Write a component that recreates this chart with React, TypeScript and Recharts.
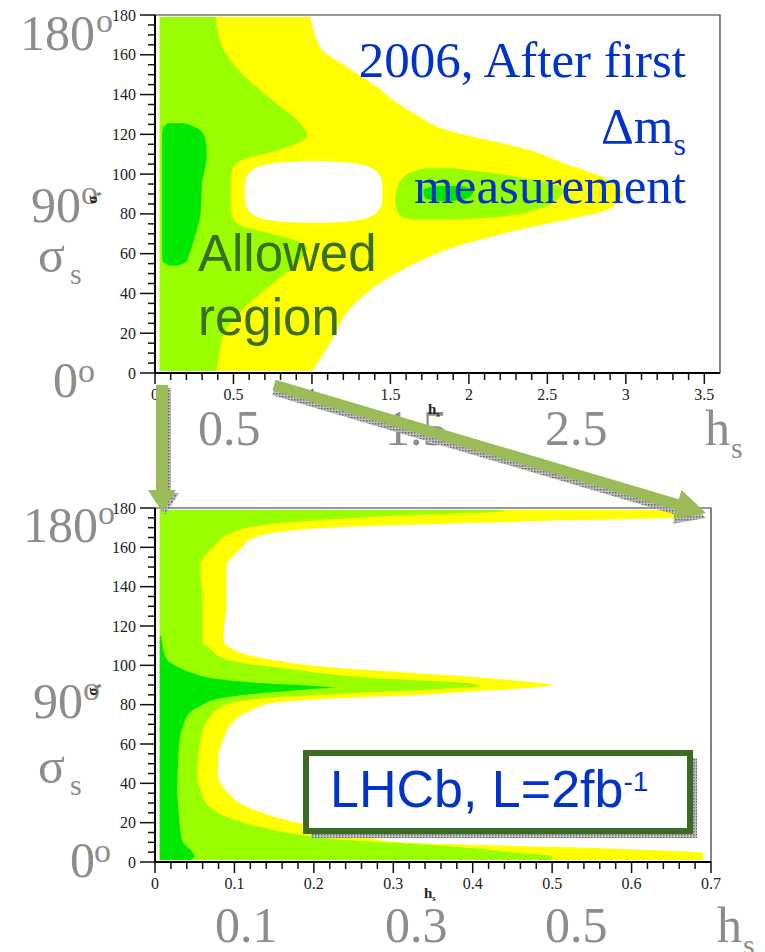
import React from 'react';
import { ComposedChart, Area, XAxis, YAxis, ReferenceArea } from 'recharts';

const YELLOW = '#ffff00';
const LIME = '#99ff00';
const GREEN = '#00e800';
const GREY = '#8c8c8c';
const BLUE = '#0033cc';
const ARROW = '#9bbb59';

// 2006 panel. Edges are [sigma, hs right edge]; islands are [sigma, hs low, hs high]
const topYellow = [
  [1, 1.0], [8, 1.06], [17, 1.13], [32, 1.24], [45, 1.43], [54, 1.63], [62, 1.86], [72, 2.32],
  [77, 2.62], [82, 2.88], [86, 2.95], [90, 2.98], [94, 2.95], [99.5, 2.82], [105, 2.62],
  [112, 2.39], [122, 1.86], [130, 1.66], [137, 1.52], [144, 1.41], [154, 1.22], [162, 1.07],
  [170, 1.02], [179, 0.99],
];
const topLime = [
  [1, 0.39], [10, 0.41], [20, 0.44], [32, 0.56], [45, 0.75], [56, 0.92], [63, 0.97], [67, 0.88],
  [70, 0.74], [74, 0.55], [79, 0.49], [90, 0.48], [102, 0.49], [107, 0.55], [111, 0.74],
  [115, 0.89], [119, 0.97], [126, 0.92], [137, 0.75], [150, 0.56], [162, 0.44], [171, 0.4],
  [179, 0.39],
];
const topHole = [
  [75.5, 0.93, 1.09], [76, 0.82, 1.2], [77, 0.72, 1.3], [79, 0.64, 1.38], [82, 0.595, 1.425],
  [86, 0.575, 1.445], [91, 0.57, 1.45], [96, 0.575, 1.445], [100, 0.595, 1.425], [103, 0.64, 1.38],
  [105, 0.72, 1.3], [106, 0.82, 1.2], [106.5, 0.93, 1.09],
];
const topBlob = [
  [77, 1.65, 1.9], [78.5, 1.57, 2.2], [82, 1.54, 2.42], [87, 1.53, 2.56], [92, 1.54, 2.6],
  [97, 1.57, 2.42], [100.5, 1.62, 2.15], [103, 1.72, 1.9],
];
const topBlobCore = [[86.5, 1.8, 1.9], [88, 1.72, 2.0], [92, 1.71, 2.03], [94, 1.78, 1.95]];
const topCore = [
  [54, 0.09, 0.15], [56, 0.05, 0.2], [60, 0.045, 0.22], [70, 0.045, 0.26], [80, 0.045, 0.29],
  [95, 0.045, 0.3], [110, 0.045, 0.33], [118, 0.045, 0.32], [123, 0.05, 0.27], [125.6, 0.08, 0.19],
];

// LHCb 2 fb-1 panel
const lhcbYellow = [
  [1, 0.69], [4.5, 0.69], [7, 0.56], [10, 0.31], [14, 0.25], [18, 0.2], [23, 0.15], [28, 0.116],
  [36, 0.09], [45, 0.079], [55, 0.08], [62, 0.086], [71, 0.098], [77, 0.12], [81, 0.15],
  [83, 0.22], [84.5, 0.31], [86.5, 0.39], [88.5, 0.47], [90, 0.5], [92, 0.46], [94.5, 0.39],
  [96.5, 0.31], [99, 0.22], [102.7, 0.149], [106, 0.11], [113, 0.086], [133, 0.09], [150, 0.09],
  [160, 0.11], [164, 0.12], [169, 0.18], [171, 0.28], [173.5, 0.5], [175.5, 0.69], [179, 0.69],
];
const lhcbLime = [
  [1, 0.5], [3, 0.5], [5, 0.45], [8, 0.37], [11, 0.245], [14, 0.18], [18, 0.13], [23, 0.09],
  [28, 0.069], [36, 0.058], [45, 0.053], [55, 0.055], [62, 0.057], [71, 0.065], [78, 0.08],
  [81, 0.098], [84, 0.16], [86.5, 0.28], [88.5, 0.38], [89.5, 0.41], [91, 0.39], [93, 0.3],
  [95, 0.23], [97.6, 0.18], [100, 0.13], [103, 0.09], [108, 0.07], [113, 0.06], [130, 0.06],
  [150, 0.057], [160, 0.073], [168, 0.1], [172, 0.15], [176, 0.3], [178.5, 0.44], [179, 0.44],
];
const lhcbCore = [
  [1, 0.045], [3, 0.05], [5, 0.047], [11, 0.034], [25, 0.03], [37, 0.028], [50, 0.029],
  [62, 0.031], [70, 0.036], [76, 0.044], [80, 0.06], [83, 0.08], [86, 0.14], [88, 0.2],
  [88.7, 0.224], [89.5, 0.2], [91, 0.13], [93, 0.08], [96, 0.048], [100, 0.025], [103, 0.015],
  [111, 0.009], [115, 0.008],
];

const sigmaTicks = Array.from({ length: 37 }, (_, i) => i * 5);
const topTicks = Array.from({ length: 36 }, (_, i) => i / 10);
const lhcbTicks = Array.from({ length: 36 }, (_, i) => (i * 2) / 100);

function buildTable(bands: Record<string, number[][]>, left: number) {
  const keys = Object.keys(bands);
  const rows = new Map<number, any>();
  keys.forEach((k) =>
    bands[k].forEach((p) => {
      const row = rows.get(p[0]) ?? { s: p[0] };
      row[k] = p.length === 3 ? [p[1], p[2]] : [left, p[1]];
      rows.set(p[0], row);
    })
  );
  const out = [...rows.values()].sort((a, b) => a.s - b.s);
  out.forEach((row) => keys.forEach((k) => { if (!row[k]) row[k] = [null, null]; }));
  return out;
}

const topData = buildTable(
  { yellow: topYellow, lime: topLime, hole: topHole, blob: topBlob, blobCore: topBlobCore, core: topCore },
  0.03
);
const lhcbData = buildTable({ yellow: lhcbYellow, lime: lhcbLime, core: lhcbCore }, 0.006);

const topLayers = [
  { key: 'yellow', color: YELLOW },
  { key: 'lime', color: LIME },
  { key: 'hole', color: '#ffffff' },
  { key: 'blob', color: LIME },
  { key: 'blobCore', color: GREEN },
  { key: 'core', color: GREEN },
];
const lhcbLayers = [
  { key: 'yellow', color: YELLOW },
  { key: 'lime', color: LIME },
  { key: 'core', color: GREEN },
];

const tickFont = { fontFamily: 'Liberation Serif, serif', fontSize: 16, fill: '#222' };

const SigmaTick = (props: any) => {
  const { x, y, payload } = props;
  const v = payload.value;
  const major = v % 20 === 0;
  return (
    <g>
      <line x1={x - (major ? 15 : 7)} x2={x} y1={y} y2={y} stroke="#111" strokeWidth={1.5} />
      {major && (
        <text x={x - 19} y={y} textAnchor="end" dominantBaseline="central" {...tickFont}>
          {v}
        </text>
      )}
    </g>
  );
};

const HsTick = (props: any) => {
  const { x, y, payload, step } = props;
  const v = payload.value;
  const major = Math.abs(v / step - Math.round(v / step)) < 1e-6;
  return (
    <g>
      <line x1={x} x2={x} y1={y} y2={y + (major ? 11 : 7)} stroke="#111" strokeWidth={1.5} />
      {major && (
        <text x={x} y={y + 21} textAnchor="middle" dominantBaseline="central" {...tickFont}>
          {String(Math.round(v * 100) / 100)}
        </text>
      )}
    </g>
  );
};

const Panel = ({ data, layers, xMax, ticks, step, top, height, margin }: any) => (
  <div style={{ position: 'absolute', left: 0, top }}>
    <ComposedChart width={765} height={height} data={data} layout="vertical" margin={margin}>
      {layers.map((l: any) => (
        <Area
          key={l.key}
          dataKey={l.key}
          type="monotone"
          fill={l.color}
          fillOpacity={1}
          stroke="none"
          connectNulls
          dot={false}
          activeDot={false}
          isAnimationActive={false}
        />
      ))}
      <ReferenceArea x1={0} x2={xMax} y1={0} y2={180} fill="none" stroke="#333" strokeWidth={1.2} ifOverflow="visible" />
      <XAxis
        type="number"
        domain={[0, xMax]}
        ticks={ticks}
        interval={0}
        allowDataOverflow
        height={30}
        tickSize={0}
        tickMargin={0}
        tickLine={false}
        axisLine={{ stroke: '#000', strokeWidth: 2 }}
        tick={(p: any) => <HsTick {...p} step={step} />}
      />
      <YAxis
        type="number"
        dataKey="s"
        domain={[0, 180]}
        reversed
        ticks={sigmaTicks}
        interval={0}
        allowDataOverflow
        width={40}
        tickSize={0}
        tickMargin={0}
        tickLine={false}
        axisLine={{ stroke: '#000', strokeWidth: 2 }}
        tick={(p: any) => <SigmaTick {...p} />}
      />
    </ComposedChart>
  </div>
);

const Big = ({ x, y, children, size = 50, fill = GREY, anchor = 'start', family = 'Liberation Serif, serif' }: any) => (
  <text x={x} y={y} fontSize={size} fill={fill} textAnchor={anchor} fontFamily={family}>
    {children}
  </text>
);

const Degree = ({ x, y, num, ox, oy }: any) => (
  <g>
    <Big x={x} y={y}>{num}</Big>
    <Big x={ox} y={oy} size={34}>o</Big>
  </g>
);

const Sigma = ({ x, y }: any) => (
  <g>
    <Big x={x} y={y}>σ</Big>
    <Big x={x + 32} y={y + 12} size={30}>s</Big>
  </g>
);

const Hs = ({ x, y }: any) => (
  <g>
    <Big x={x} y={y}>h</Big>
    <Big x={x + 26} y={y + 13} size={30}>s</Big>
  </g>
);

const arrowPts = (x1: number, y1: number, x2: number, y2: number, w: number, hl: number, hw: number) => {
  const dx = x2 - x1;
  const dy = y2 - y1;
  const len = Math.hypot(dx, dy);
  const ux = dx / len;
  const uy = dy / len;
  const nx = -uy;
  const ny = ux;
  const bx = x2 - ux * hl;
  const by = y2 - uy * hl;
  const p = [
    [x1 + nx * w / 2, y1 + ny * w / 2],
    [bx + nx * w / 2, by + ny * w / 2],
    [bx + nx * hw / 2, by + ny * hw / 2],
    [x2, y2],
    [bx - nx * hw / 2, by - ny * hw / 2],
    [bx - nx * w / 2, by - ny * w / 2],
    [x1 - nx * w / 2, y1 - ny * w / 2],
  ];
  return p.map((q) => q.join(',')).join(' ');
};

const Overlay = () => (
  <svg width={765} height={952} style={{ position: 'absolute', left: 0, top: 0, pointerEvents: 'none' }}>
    <defs>
      <pattern id="hatch" width="3" height="3" patternUnits="userSpaceOnUse">
        <rect width="3" height="3" fill="#bbb" />
        <rect width="1.5" height="1.5" fill="#666" />
      </pattern>
    </defs>

    {/* top panel annotations */}
    <Big x={686} y={77} size={51} fill={BLUE} anchor="end">2006, After first</Big>
    <text x={686} y={143} fontSize={51} fill={BLUE} textAnchor="end" fontFamily="Liberation Serif, serif">
      Δm<tspan dy={12} fontSize={32}>s</tspan>
    </text>
    <Big x={686} y={203} size={51} fill={BLUE} anchor="end">measurement</Big>
    <Big x={198} y={271} size={51} fill="#3a6e20" family="Liberation Sans, Arial, sans-serif">Allowed</Big>
    <Big x={198} y={335} size={51} fill="#3a6e20" family="Liberation Sans, Arial, sans-serif">region</Big>

    <Degree x={20} y={50} num="180" ox={96} oy={32} />
    <Degree x={31} y={222} num="90" ox={81} oy={204} />
    <Sigma x={38} y={272} />
    <Degree x={53} y={397} num="0" ox={78} oy={382} />
    <Big x={198} y={445}>0.5</Big>
    <Big x={385} y={445}>1.5</Big>
    <Big x={545} y={445}>2.5</Big>
    <Hs x={705} y={445} />

    <text x={0} y={0} transform="translate(97,198) rotate(-90)" fontSize={15} fontWeight="bold" fontFamily="Liberation Serif, serif" fill="#222" textAnchor="middle">
      σ<tspan dy={4} fontSize={9}>s</tspan>
    </text>
    <text x={428} y={414} fontSize={15} fontWeight="bold" fontFamily="Liberation Serif, serif" fill="#222">
      h<tspan dy={3} fontSize={9}>s</tspan>
    </text>

    {/* bottom panel annotations */}
    <Degree x={23} y={542} num="180" ox={98} oy={524} />
    <Degree x={33} y={718} num="90" ox={83} oy={700} />
    <Sigma x={38} y={783} />
    <Degree x={70} y={877} num="0" ox={94} oy={862} />
    <Big x={215} y={942}>0.1</Big>
    <Big x={385} y={942}>0.3</Big>
    <Big x={545} y={942}>0.5</Big>
    <Hs x={717} y={942} />

    <text x={0} y={0} transform="translate(97,690) rotate(-90)" fontSize={15} fontWeight="bold" fontFamily="Liberation Serif, serif" fill="#222" textAnchor="middle">
      σ<tspan dy={4} fontSize={9}>s</tspan>
    </text>
    <text x={424} y={898} fontSize={15} fontWeight="bold" fontFamily="Liberation Serif, serif" fill="#222">
      h<tspan dy={3} fontSize={9}>s</tspan>
    </text>

    <rect x={311} y={758} width={386} height={80} fill="url(#hatch)" />
    <rect x={306} y={753} width={384} height={78} fill="#fff" stroke="#3b6b26" strokeWidth={6} />
    <text x={330} y={807} fontSize={52} fill={BLUE} fontFamily="Liberation Sans, Arial, sans-serif">
      LHCb, L=2fb<tspan dy={-16} fontSize={28}>-1</tspan>
    </text>

    {/* arrows */}
    <polygon points={arrowPts(165, 388, 165, 515, 12, 22, 28)} fill="url(#hatch)" />
    <polygon points={arrowPts(162, 385, 162, 512, 12, 22, 28)} fill={ARROW} />
    <polygon points={arrowPts(274, 390, 706, 518, 11, 30, 30)} fill="url(#hatch)" />
    <polygon points={arrowPts(274, 385, 706, 513, 11, 30, 30)} fill={ARROW} />
  </svg>
);

export default function App() {
  return (
    <div style={{ position: 'absolute', left: 0, top: 0, width: 765, height: 952, background: '#fff' }}>
      <Panel
        data={topData}
        layers={topLayers}
        xMax={3.6}
        ticks={topTicks}
        step={0.5}
        top={0}
        height={420}
        margin={{ top: 15, right: 45, bottom: 17, left: 115 }}
      />
      <Panel
        data={lhcbData}
        layers={lhcbLayers}
        xMax={0.7}
        ticks={lhcbTicks}
        step={0.1}
        top={480}
        height={440}
        margin={{ top: 28, right: 54, bottom: 28, left: 115 }}
      />
      <Overlay />
    </div>
  );
}
